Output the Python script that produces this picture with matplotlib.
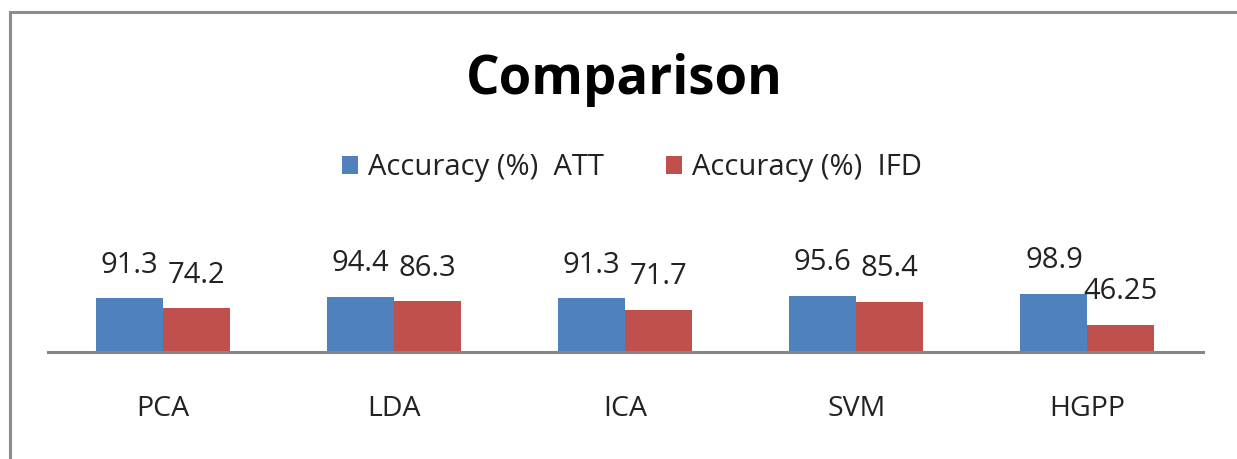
import matplotlib.pyplot as plt
import numpy as np
from matplotlib.patches import Rectangle

methods = ["PCA", "LDA", "ICA", "SVM", "HGPP"]
acc_att = [91.3, 94.4, 91.3, 95.6, 98.9]
acc_ifd = [74.2, 86.3, 71.7, 85.4, 46.25]
att_labels = ["91.3", "94.4", "91.3", "95.6", "98.9"]
ifd_labels = ["74.2", "86.3", "71.7", "85.4", "46.25"]

plt.rcParams['font.family'] = ['Open Sans', 'DejaVu Sans']

W, H = 1237, 459
fig = plt.figure(figsize=(W / 100, H / 100), dpi=100)

# grey frame, cut off at right and bottom like the source image
fig.patches.append(Rectangle((10 / W, -0.2), 1.5, (H - 12) / H + 0.2,
                             transform=fig.transFigure, fill=False,
                             edgecolor='#8c8c8c', linewidth=2.2))

ax = fig.add_axes([47.5 / W, (H - 352) / H, (1203 - 47.5) / W, 58.7 / H])

blue = '#4f81bd'
red = '#c0504d'
x = np.arange(len(methods))
bw = 0.29

b1 = ax.bar(x - bw / 2, acc_att, width=bw, color=blue, label='Accuracy (%)  ATT')
b2 = ax.bar(x + bw / 2, acc_ifd, width=bw, color=red, label='Accuracy (%)  IFD')

for bars, labs in [(b1, att_labels), (b2, ifd_labels)]:
    for bar, lab in zip(bars, labs):
        ax.annotate(lab, (bar.get_x() + bar.get_width() / 2, bar.get_height()),
                    xytext=(0, 24), textcoords='offset points',
                    ha='center', va='center', fontsize=21, color='#222222',
                    annotation_clip=False)

ax.set_xlim(-0.5, 4.5)
ax.set_ylim(0, 100)
ax.set_yticks([])
ax.set_xticks(x, methods, fontsize=20.5, color='#222222')
ax.tick_params(axis='x', length=0, pad=31)
for s in ['top', 'right', 'left']:
    ax.spines[s].set_visible(False)
ax.spines['bottom'].set_color('#868686')
ax.spines['bottom'].set_linewidth(2.2)
ax.set_facecolor('none')

fig.text(624 / W, (H - 80) / H, "Comparison", ha='center', va='center',
         fontsize=38, fontweight='bold', color='black')

fig.legend(loc='center', bbox_to_anchor=(632 / W, (H - 168) / H),
           ncol=2, frameon=False, fontsize=21, handlelength=0.55,
           handleheight=0.55, handletextpad=0.35, columnspacing=2.1,
           labelcolor='#222222')

fig.savefig('out.png', dpi=100)
